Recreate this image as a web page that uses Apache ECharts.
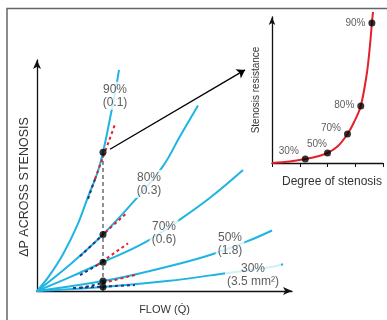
<!DOCTYPE html>
<html>
<head>
<meta charset="utf-8">
<script src="https://cdn.jsdelivr.net/npm/echarts@6/dist/echarts.min.js"></script>
<style>
  html, body { margin: 0; padding: 0; background: #fff; }
  #chart { width: 387px; height: 320px; }
</style>
</head>
<body>
<div id="chart"></div>
<script>
// main panel: flow vs pressure drop, one curve per stenosis
const stenosis = ["90%", "80%", "70%", "50%", "30%"];
const areas = ["(0.1)", "(0.3)", "(0.6)", "(1.8)", "(3.5 mm²)"];

const curve90 = [[0,0],[12,15],[26,37],[41,68],[51,95],[60,118],[66,140],[73,174],[79,205],[82,223]];
const curve80 = [[0,0],[31,25],[66,57],[100,94],[126,126],[143,156],[161,187]];
const curve70 = [[0,0],[33,14],[66,29],[108,49],[140,70],[173,94],[206,122]];
const curve50 = [[0,0],[66,10],[120,22],[169,35],[210,50],[235,61]];
const curve30 = [[0,0],[66,4],[130,10],[196,19],[233,24],[246,27]];

// operating flow and the pressure drop at it
const flowMark = 66;
const dropAtFlow = [140, 57, 29, 10, 4];

// tangents at the operating point (lower navy part, upper red part)
const tangentNavy = [
  [[51,93],[58,113]],
  [[43,35],[64,55]],
  [[43,16],[60,26]],
  [[43,3],[66,8]],
  [[36,3],[98,6]]
];
const tangentRed = [
  [[58,113],[78,168]],
  [[64,55],[90,79]],
  [[60,26],[91,48]],
  [[66,8],[101,17]]
];

// label anchors for the curve names
const labelAt = [[78,197],[112,108],[127,58],[193,47],[216,16]];

const arrowFrom = [73,143];
const arrowTo = [208,223];

// inset: resistance vs degree of stenosis
const degree = [30, 50, 68, 80, 90];
const degreeLabels = ["30%", "50%", "70%", "80%", "90%"];
const resistance = [4, 10, 29, 57, 140];
const resistanceCurve = [
  [0,0],[16,1.5],[30,4],[40.5,6.5],[50,10],[59.5,17],[68,29],
  [74,41],[80,57],[85.5,90],[88.3,118],[90,140],[91,151]
];

const cyan = "#1fb4e2";
const red = "#e3202b";
const navy = "#2b3577";
const font = "Liberation Sans, Arial, sans-serif";

const chart = echarts.init(document.getElementById("chart"));

const curves = [curve90, curve80, curve70, curve50, curve30];
const series = [];

curves.forEach(function(c){
  series.push({
    type: "line",
    data: c,
    smooth: 0.4,
    symbol: "none",
    lineStyle: { color: cyan, width: 2 },
    z: 2
  });
});

tangentNavy.forEach(function(t){
  series.push({
    type: "line",
    data: t,
    symbol: "none",
    lineStyle: { color: navy, width: 2, type: [3, 3] },
    z: 3
  });
});
tangentRed.forEach(function(t){
  series.push({
    type: "line",
    data: t,
    symbol: "none",
    lineStyle: { color: red, width: 2, type: [3, 3] },
    z: 3
  });
});

// vertical dashed line at the operating flow
series.push({
  type: "line",
  data: [[flowMark, 0], [flowMark, dropAtFlow[0]]],
  symbol: "none",
  lineStyle: { color: "#222", width: 1, type: [4, 3] },
  z: 3
});

// dots
series.push({
  type: "scatter",
  data: dropAtFlow.map(function(v){ return [flowMark, v]; }),
  symbolSize: 7,
  itemStyle: { color: "#000" },
  z: 5
});

// arrow to the inset
series.push({
  type: "lines",
  coordinateSystem: "cartesian2d",
  xAxisIndex: 0,
  yAxisIndex: 0,
  data: [{ coords: [arrowFrom, arrowTo] }],
  symbol: ["none", "arrow"],
  symbolSize: 8,
  lineStyle: { color: "#000", width: 1.3, opacity: 1 },
  z: 4
});

// curve labels
series.push({
  type: "scatter",
  data: labelAt.map(function(p, i){
    return { value: p, name: stenosis[i] + "\n" + areas[i] };
  }),
  symbolSize: 1,
  itemStyle: { color: "rgba(0,0,0,0)" },
  label: {
    show: true,
    position: "inside",
    formatter: "{b}",
    color: "#333",
    fontSize: 12,
    lineHeight: 13,
    fontFamily: font,
    backgroundColor: "#fff",
    padding: [1, 2]
  },
  z: 6
});

// inset curve
series.push({
  type: "line",
  xAxisIndex: 1,
  yAxisIndex: 1,
  data: resistanceCurve,
  smooth: 0.3,
  symbol: "none",
  clip: false,
  lineStyle: { color: red, width: 2 },
  z: 2
});

// label offsets in the inset, same order as degree
const insetOffsets = [[0, -8], [6, -9], [0, -6], [0, -1], [0, 0]];
series.push({
  type: "scatter",
  xAxisIndex: 1,
  yAxisIndex: 1,
  data: degree.map(function(d, i){
    return { value: [d, resistance[i]], name: degreeLabels[i], label: { offset: insetOffsets[i] } };
  }),
  symbolSize: 7,
  itemStyle: { color: "#000" },
  label: {
    show: true,
    position: "left",
    distance: 3,
    formatter: "{b}",
    color: "#333",
    fontSize: 10,
    fontFamily: font
  },
  z: 5
});

chart.setOption({
  animation: false,
  backgroundColor: "#fff",
  grid: [
    { left: 37, top: 60, width: 255, height: 233 },
    { left: 272, top: 17, width: 111, height: 146 }
  ],
  xAxis: [
    {
      gridIndex: 0, type: "value", min: 0, max: 255,
      name: "FLOW (Q̇)", nameLocation: "middle", nameGap: 13,
      nameTextStyle: { color: "#333", fontSize: 11, fontFamily: font },
      axisLine: { lineStyle: { color: "#111", width: 1.3 }, symbol: ["none", "arrow"], symbolSize: [6, 9] },
      axisTick: { show: false }, axisLabel: { show: false }, splitLine: { show: false }
    },
    {
      gridIndex: 1, type: "value", min: 0, max: 100, interval: 25,
      axisLine: { lineStyle: { color: "#111", width: 1.3 } },
      axisTick: { show: true, length: 4, lineStyle: { color: "#111" } },
      axisLabel: { show: false }, splitLine: { show: false }
    }
  ],
  yAxis: [
    {
      gridIndex: 0, type: "value", min: 0, max: 233,
      axisLine: { lineStyle: { color: "#111", width: 1.3 }, symbol: ["none", "arrow"], symbolSize: [6, 9] },
      axisTick: { show: false }, axisLabel: { show: false }, splitLine: { show: false }
    },
    {
      gridIndex: 1, type: "value", min: 0, max: 146,
      axisLine: { lineStyle: { color: "#111", width: 1.3 }, symbol: ["none", "arrow"], symbolSize: [5, 8] },
      axisTick: { show: false }, axisLabel: { show: false }, splitLine: { show: false }
    }
  ],
  graphic: [
    {
      type: "polyline",
      shape: { points: [[7, 320], [7, 8.5], [387, 8.5]] },
      style: { stroke: "#666", lineWidth: 1.5, fill: null },
      silent: true
    },
    {
      type: "text",
      x: 25, y: 187, rotation: Math.PI / 2,
      style: { text: "ΔP ACROSS STENOSIS", fill: "#333", font: "12.5px " + font, align: "center", verticalAlign: "middle" },
      silent: true
    },
    {
      type: "text",
      x: 256.5, y: 90, rotation: Math.PI / 2,
      style: { text: "Stenosis resistance", fill: "#333", font: "10px " + font, align: "center", verticalAlign: "middle" },
      silent: true
    },
    {
      type: "text",
      x: 332, y: 182,
      style: { text: "Degree of stenosis", fill: "#333", font: "12px " + font, align: "center", verticalAlign: "middle" },
      silent: true
    }
  ],
  series: series
});
</script>
</body>
</html>
